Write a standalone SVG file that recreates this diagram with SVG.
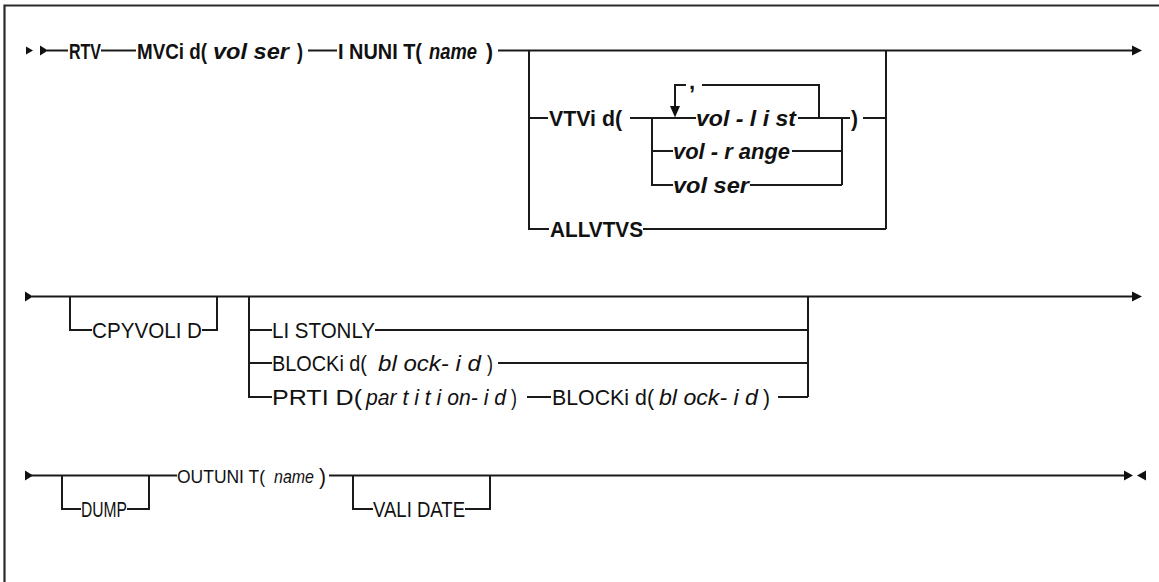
<svg xmlns="http://www.w3.org/2000/svg" width="1159" height="582" viewBox="0 0 1159 582">
<style>
  text { font-family: "Liberation Sans", Arial, sans-serif; font-size: 22px; fill: #111; }
  .b { font-weight: bold; }
  .i { font-style: italic; }
  .s19 { font-size: 19px; }
  .s18 { font-size: 18px; }
  .ln { fill: none; stroke: #1a1a1a; stroke-width: 2; }
  .ah { fill: #111; stroke: none; }
  .frame { fill: none; stroke: #2a2a2a; stroke-width: 2.2; }
</style>
<rect x="0" y="0" width="1159" height="582" fill="#ffffff"/>
<path class="frame" d="M4.5,582 V5.5 H1159"/>

<g id="connectors">
  <!-- row 1 -->
  <polygon class="ah" points="26,46.5 33,50.5 26,54.5"/>
  <polygon class="ah" points="40,45.5 48,50.5 40,55.5"/>
  <path class="ln" d="M47,50.5 H68 M101,50.5 H136 M308,50.5 H337 M498,50.5 H1134"/>
  <polygon class="ah" points="1132,45.5 1142,50.5 1132,55.5"/>
  <path class="ln" d="M529,50.5 V229 H549 M529,118 H548 M630,118 H696 M643,229 H886 M886,50.5 V229"/>
  <path class="ln" d="M652,118 V185 H673 M652,151 H673 M792,151 H842 M750,185 H842 M842,118 V185 M798,118 H850 M863,118 H886"/>
  <path class="ln" d="M675,108 V85 H686 M702,85 H819 V118"/>
  <polygon class="ah" points="670,106 680,106 675,117.5"/>
  <!-- row 2 -->
  <polygon class="ah" points="25,291.5 33,296.5 25,301.5"/>
  <path class="ln" d="M32,296.5 H1134"/>
  <polygon class="ah" points="1132,291.5 1142,296.5 1132,301.5"/>
  <path class="ln" d="M70,296.5 V330 H92 M202,330 H217 V296.5"/>
  <path class="ln" d="M249,296.5 V397 H272 M249,330 H272 M249,363 H272 M808,296.5 V397 M375,330 H808 M498,363 H808 M527,397 H551 M778,397 H808"/>
  <!-- row 3 -->
  <polygon class="ah" points="25,470.5 33,475.5 25,480.5"/>
  <path class="ln" d="M31,475.5 H177 M329,475.5 H1126"/>
  <polygon class="ah" points="1124,470.5 1133,475.5 1124,480.5"/>
  <polygon class="ah" points="1146,470.5 1137,475.5 1146,480.5"/>
  <path class="ln" d="M62,475.5 V509 H81 M127,509 H149 V475.5"/>
  <path class="ln" d="M353,475.5 V509 H373 M465,509 H490 V475.5"/>
</g>

<g id="n-rtv"><text class="b" x="69" y="58.5" textLength="32" lengthAdjust="spacingAndGlyphs">RTV</text></g>
<g id="n-mvcid">
  <text class="b" x="137" y="58.5" textLength="70" lengthAdjust="spacingAndGlyphs">MVCi d(</text>
  <text class="b i" x="213" y="58.5" textLength="76" lengthAdjust="spacingAndGlyphs">vol ser</text>
  <text class="b" x="297" y="58.5" textLength="6" lengthAdjust="spacingAndGlyphs">)</text>
</g>
<g id="n-inunit">
  <text class="b" x="338" y="58.5" textLength="84" lengthAdjust="spacingAndGlyphs">I NUNI T(</text>
  <text class="b i" x="429" y="58.5" textLength="48" lengthAdjust="spacingAndGlyphs">name</text>
  <text class="b" x="486" y="58.5" textLength="7" lengthAdjust="spacingAndGlyphs">)</text>
</g>
<g id="n-vtvid">
  <text class="b" x="549" y="126" textLength="73" lengthAdjust="spacingAndGlyphs">VTVi d(</text>
  <text class="b" x="851" y="126" textLength="7" lengthAdjust="spacingAndGlyphs">)</text>
</g>
<g id="n-comma"><text class="b" x="689" y="89">,</text></g>
<g id="n-vollist"><text class="b i" x="696" y="126" textLength="100" lengthAdjust="spacingAndGlyphs">vol - l i st</text></g>
<g id="n-volrange"><text class="b i" x="673" y="159" textLength="117" lengthAdjust="spacingAndGlyphs">vol - r ange</text></g>
<g id="n-volser"><text class="b i" x="673" y="193" textLength="76" lengthAdjust="spacingAndGlyphs">vol ser</text></g>
<g id="n-allvtvs"><text class="b" x="550" y="237" textLength="93" lengthAdjust="spacingAndGlyphs">ALLVTVS</text></g>

<g id="n-cpyvolid"><text x="92" y="338" textLength="110" lengthAdjust="spacingAndGlyphs">CPYVOLI D</text></g>
<g id="n-listonly"><text x="272" y="338" textLength="103" lengthAdjust="spacingAndGlyphs">LI STONLY</text></g>
<g id="n-blockid">
  <text x="272" y="371" textLength="95" lengthAdjust="spacingAndGlyphs">BLOCKi d(</text>
  <text class="i" x="378" y="371" textLength="103" lengthAdjust="spacingAndGlyphs">bl ock- i d</text>
  <text x="487" y="371" textLength="6" lengthAdjust="spacingAndGlyphs">)</text>
</g>
<g id="n-prtid">
  <text x="272" y="405" textLength="90" lengthAdjust="spacingAndGlyphs">PRTI D(</text>
  <text class="i" x="366" y="405" textLength="140" lengthAdjust="spacingAndGlyphs">par t i t i on- i d</text>
  <text x="511" y="405" textLength="6" lengthAdjust="spacingAndGlyphs">)</text>
</g>
<g id="n-prtid-blockid">
  <text x="552" y="405" textLength="102" lengthAdjust="spacingAndGlyphs">BLOCKi d(</text>
  <text class="i" x="659" y="405" textLength="99" lengthAdjust="spacingAndGlyphs">bl ock- i d</text>
  <text x="763" y="405" textLength="7" lengthAdjust="spacingAndGlyphs">)</text>
</g>

<g id="n-dump"><text x="81" y="517" textLength="46" lengthAdjust="spacingAndGlyphs">DUMP</text></g>
<g id="n-outunit">
  <text class="s19" x="177" y="482.5" textLength="88" lengthAdjust="spacingAndGlyphs">OUTUNI T(</text>
  <text class="i s18" x="274" y="482.5" textLength="40" lengthAdjust="spacingAndGlyphs">name</text>
  <text x="319" y="483.5" textLength="7" lengthAdjust="spacingAndGlyphs">)</text>
</g>
<g id="n-validate"><text x="373" y="517" textLength="92" lengthAdjust="spacingAndGlyphs">VALI DATE</text></g>
</svg>
